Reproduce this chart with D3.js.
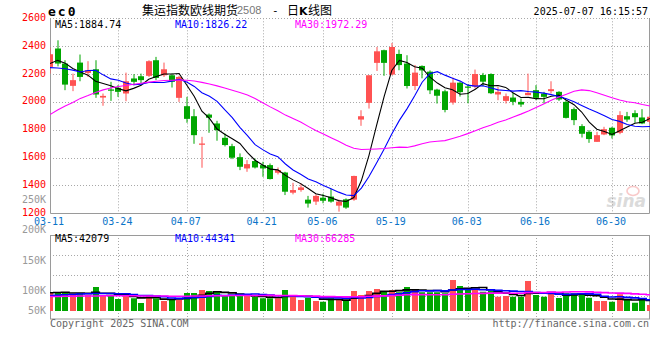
<!DOCTYPE html>
<html><head><meta charset="utf-8">
<script src="https://cdn.jsdelivr.net/npm/d3@7"></script>
<style>body{margin:0;background:#fff}svg{display:block}</style>
</head><body>
<svg id="c" width="660" height="360"></svg>
<script>
const dates = ["03-11","03-12","03-13","03-14","03-17","03-18","03-19","03-20","03-21","03-24","03-25","03-26","03-27","03-28","03-31",
"04-01","04-02","04-03","04-07","04-08","04-09","04-10","04-11","04-14","04-15","04-16","04-17","04-18","04-21","04-22","04-23","04-24","04-25","04-28","04-29","04-30",
"05-06","05-07","05-08","05-09","05-12","05-13","05-14","05-15","05-16","05-19","05-20","05-21","05-22","05-23","05-26","05-27","05-28","05-29","05-30",
"06-03","06-04","06-05","06-06","06-09","06-10","06-11","06-12","06-13","06-16","06-17","06-18","06-19","06-20","06-23","06-24","06-25","06-26","06-27","06-30",
"07-01","07-02","07-03","07-04","07-07"];
const open = [2251,2383,2275,2115,2282,2208,2234,2031,2089,2101,2060,2168,2184,2187,2299,2191,2191,2029,1969,1897,1692,1909,1845,1742,1682,1603,1522,1575,1546,1546,1491,1493,1348,1367,1298,1284,1312,1320,1255,1300,1298,1873,1993,2280,2371,2196,2344,2275,2114,2258,2217,2088,2076,1995,2138,2110,2110,2193,2200,2053,2007,2031,2000,2048,2084,2060,2077,2072,2000,1948,1826,1785,1713,1766,1814,1778,1897,1919,1888,1857];
const high = [2390,2442,2299,2203,2340,2292,2299,2060,2144,2120,2210,2199,2203,2299,2323,2282,2203,2187,2036,1948,1749,1917,1864,1773,1699,1630,1582,1594,1570,1558,1529,1498,1419,1415,1325,1337,1340,1376,1298,1307,1470,1940,2191,2394,2375,2423,2375,2335,2265,2262,2226,2094,2088,2175,2142,2128,2232,2208,2205,2108,2060,2065,2024,2203,2120,2072,2148,2077,2012,1960,1840,1797,1785,1821,1821,1933,1928,1940,1948,1897];
const low = [2203,2255,2084,2077,2148,2179,2029,1972,2007,2036,2005,2120,2132,2179,2156,2179,2103,2000,1850,1699,1527,1778,1721,1680,1589,1510,1498,1522,1462,1443,1479,1331,1336,1355,1241,1260,1272,1276,1212,1232,1290,1828,1952,2222,2187,2191,2227,2096,2085,2169,2056,1988,1925,1980,2038,1990,2096,2112,2056,2012,1988,1976,1964,2048,2012,1988,2060,2007,1881,1833,1744,1706,1713,1761,1737,1768,1857,1850,1840,1845];
const close = [2342,2275,2124,2156,2179,2227,2053,2043,2080,2072,2148,2144,2156,2292,2172,2234,2144,2179,1878,1761,1701,1886,1797,1690,1599,1534,1553,1529,1522,1446,1510,1355,1367,1386,1270,1325,1290,1284,1284,1241,1468,1897,2191,2363,2280,2394,2264,2114,2210,2226,2083,2044,1942,2138,2070,2104,2200,2145,2062,2072,2041,2000,1981,2065,2029,2036,2091,2017,1885,1869,1771,1733,1761,1804,1759,1905,1873,1890,1845,1893];
const ma5 = [2275,2298,2278,2240,2215,2192,2148,2132,2116,2095,2079,2097,2120,2162,2182,2200,2200,2204,2121,2039,1933,1881,1805,1767,1735,1701,1635,1581,1547,1517,1512,1472,1440,1413,1378,1341,1328,1311,1291,1285,1313,1435,1616,1832,2040,2225,2298,2283,2252,2242,2179,2135,2101,2087,2055,2060,2091,2131,2116,2117,2104,2064,2031,2032,2023,2022,2040,2048,2012,1980,1927,1855,1804,1788,1766,1792,1820,1846,1854,1881];
const ma10 = [2246,2243,2238,2228,2215,2225,2226,2194,2165,2155,2136,2123,2126,2139,2139,2139,2149,2162,2142,2111,2066,2040,2004,1944,1887,1817,1758,1693,1657,1626,1607,1554,1511,1480,1447,1426,1400,1376,1352,1331,1327,1381,1464,1561,1662,1769,1867,1950,2042,2141,2202,2217,2192,2170,2149,2120,2113,2116,2101,2086,2082,2077,2081,2074,2070,2063,2052,2039,2022,2001,1974,1948,1926,1900,1873,1860,1838,1825,1821,1823];
const ma30 = [1909,1942,1970,1995,2025,2045,2068,2086,2100,2110,2118,2126,2134,2142,2148,2153,2155,2156,2155,2150,2140,2128,2115,2100,2083,2067,2050,2024,1994,1964,1936,1905,1880,1855,1824,1794,1769,1743,1717,1689,1667,1658,1660,1662,1665,1671,1675,1673,1684,1699,1712,1717,1722,1737,1753,1772,1793,1814,1832,1853,1870,1892,1912,1935,1960,1984,2011,2035,2055,2076,2086,2081,2066,2048,2030,2014,2001,1994,1981,1970];
const volK = [73,76,76,64,72,64,96,60,60,48,72,51,32,64,51,40,44,44,72,72,84,80,76,60,63,60,60,56,51,51,51,84,64,44,53,40,37,57,44,40,80,64,80,88,80,84,75,96,88,75,75,75,71,124,100,84,84,77,80,57,60,57,57,120,64,57,71,52,71,71,71,53,40,40,37,67,44,33,44,24];
const volMa5K = [73,74,75,72,72.2,70.4,74.4,71.2,70.4,65.6,67.2,58.2,52.6,53.4,54,47.6,46.2,48.6,50.2,54.4,63.2,70.4,76.8,74.4,72.6,67.8,63.8,59.8,58,55.6,53.8,58.6,60.2,58.8,59.2,57,47.6,46.2,46.2,43.6,51.6,57,61.6,70.4,78.4,79.2,81.4,84.6,84.6,83.6,81.8,81.8,76.8,84,89,90.8,92.6,93.8,85,76.4,71.6,66.2,62.2,70.2,71.6,71,73.8,72.8,63,64.4,67.2,63.6,61.2,55,48.2,47.4,45.6,44.2,45,42.4];
const volMa10K = [62,63,65,66,68,69,70,70,70,68.9,68.8,66.3,61.9,61.9,59.8,57.4,52.2,50.6,51.8,54.2,55.4,58.3,62.7,62.3,63.5,65.5,67.1,68.3,66.2,64.1,60.8,61.2,60,58.4,57.4,55.4,53.1,53.2,52.5,51.4,54.3,52.3,53.9,58.3,61,65.4,69.2,73.1,77.5,81,80.5,81.6,80.7,84.3,86.3,86.3,87.2,85.3,84.5,82.7,81.2,79.4,78,77.6,74,71.3,70,67.5,66.6,68,69.1,68.7,67,59,56.3,57.3,54.6,52.7,50,45.3];
const volMa30K = [58,58,59,59,60,60,60,61,61,61,61,61,60,60,60,60,59,59,59,60,60,61,61,61,62,62,62,62,62,62.4,61.7,61.9,61.5,60.9,60.2,59.4,57.5,57.4,56.8,56.6,56.8,57.3,58.9,59.7,60.6,62.1,63.1,64.9,65.4,65.5,65.2,65,64.9,67,68.2,69,69.8,70.5,71.5,71.7,72,71.1,70.9,73.4,73.8,74.3,75.5,75.3,76.2,77.2,76.9,76.6,75.2,73.6,72.2,71.6,70.6,68.5,67,65.3];
const priceTicks = [2600,2400,2200,2000,1800,1600,1400,1200];
const dateTicks = ["03-11","03-24","04-07","04-21","05-06","05-19","06-03","06-16","06-30"];
const volTicks = [250,200,150,100,50];
const volTickLabels = ["250K","200K","150K","100K","50K"];
const priceLegend = ["MA5:1884.74","MA10:1826.22","MA30:1972.29"];
const volLegend = ["MA5:42079","MA10:44341","MA30:66285"];
const maColors = ["#000000","#0000ff","#ff00ff"];

const L = 50, R = 650, PT = 18.3, PB = 213.3, VT = 235, VB = 318.5, VBASE = 311;
const UP = "#ff5252", DOWN = "#00a600", GRID = "#a8a8a8", BORDER = "#9a9a9a";
const MONO = "'DejaVu Sans Mono', monospace";
const svg = d3.select("#c");
const x = d3.scalePoint().domain(dates).range([L, R]);
const y = d3.scaleLinear().domain([1200, 2600]).range([PB, PT]);
const yv = d3.scaleLinear().domain([0, 304]).range([VBASE, VBASE - 76]);
const yvLabel = d3.scaleLinear().domain([100, 250]).range([294, 203]);
const idx = d3.range(dates.length);
const xr = i => Math.round(x(dates[i]));

const defs = svg.append("defs");
defs.append("clipPath").attr("id","cp").append("rect").attr("x",L).attr("y",PT).attr("width",R-L).attr("height",PB-PT);
defs.append("clipPath").attr("id","cv").append("rect").attr("x",L).attr("y",VT).attr("width",R-L).attr("height",VB-VT);

// grid
const grid = svg.append("g").attr("stroke",GRID).attr("stroke-dasharray","1,2").attr("stroke-width",1);
priceTicks.filter(v => v > 1200).forEach(v => {
  const yy = Math.round(y(v)) + 0.5;
  grid.append("line").attr("x1",L).attr("x2",R).attr("y1",yy).attr("y2",yy);
});
dateTicks.slice(1).forEach(d => {
  const xx = Math.round(x(d)) + 0.5;
  grid.append("line").attr("x1",xx).attr("x2",xx).attr("y1",PT).attr("y2",PB);
  grid.append("line").attr("x1",xx).attr("x2",xx).attr("y1",VT).attr("y2",VB+1);
});
[1,2,3].forEach(k => {
  const yy = Math.round(VT + k*20.2) + 0.5;
  grid.append("line").attr("x1",L).attr("x2",R).attr("y1",yy).attr("y2",yy);
});

// borders
const bd = svg.append("g").attr("stroke",BORDER).attr("stroke-width",1).attr("fill","none");
bd.append("path").attr("d",`M${L+0.5},${Math.round(PT)}V${Math.round(PB)+0.5}H${R-0.5}V${Math.round(PT)}`);
bd.append("rect").attr("x",L+0.5).attr("y",VT+0.5).attr("width",R-L-1).attr("height",VB-VT);

// watermark
const wm = svg.append("g").attr("opacity",0.35);
wm.append("text").attr("x",646).attr("y",207).attr("text-anchor","end").attr("font-family","'DejaVu Sans', sans-serif")
  .attr("font-style","italic").attr("font-weight","bold").attr("font-size",17).attr("fill","#999").text("sina");
wm.append("ellipse").attr("cx",633).attr("cy",191).attr("rx",6).attr("ry",4.5).attr("fill","none").attr("stroke","#e66").attr("stroke-width",1.6);

// candles
const cg = svg.append("g").attr("clip-path","url(#cp)");
cg.selectAll("rect.w").data(idx).join("rect").attr("class","w")
  .attr("x", i => xr(i) - 0.5).attr("width", 1)
  .attr("y", i => y(high[i])).attr("height", i => Math.max(1, y(low[i]) - y(high[i])))
  .attr("fill", i => close[i] >= open[i] ? UP : DOWN);
cg.selectAll("rect.b").data(idx).join("rect").attr("class","b")
  .attr("x", i => xr(i) - 3).attr("width", 6)
  .attr("y", i => y(Math.max(open[i], close[i])))
  .attr("height", i => Math.max(1.2, Math.abs(y(open[i]) - y(close[i]))))
  .attr("fill", i => close[i] >= open[i] ? UP : DOWN);

// MA lines (price)
[ma5, ma10, ma30].forEach((arr, k) => {
  const ln = d3.line().x(i => x(dates[i])).y(i => y(arr[i]));
  cg.append("path").attr("d", ln(idx)).attr("fill","none").attr("stroke",maColors[k]).attr("stroke-width",1.1);
});

// volume bars
const vg = svg.append("g").attr("clip-path","url(#cv)");
vg.selectAll("rect.v").data(idx).join("rect").attr("class","v")
  .attr("x", i => xr(i) - 3).attr("width", 6)
  .attr("y", i => yv(volK[i])).attr("height", i => VBASE - yv(volK[i]))
  .attr("fill", i => close[i] >= open[i] ? UP : DOWN);
[volMa5K, volMa10K, volMa30K].forEach((arr, k) => {
  const ln = d3.line().curve(d3.curveStep).x(i => x(dates[i])).y(i => yv(arr[i]));
  vg.append("path").attr("d", ln(idx)).attr("fill","none").attr("stroke",maColors[k]).attr("stroke-width",1.6);
});

// axis labels
const t = svg.append("g").attr("font-family",MONO).attr("font-size",10);
priceTicks.forEach(v => {
  t.append("text").attr("x",46).attr("y",y(v)+2.5).attr("text-anchor","end").attr("fill","#ff0000").text(v);
});
volTicks.forEach((v,k) => {
  t.append("text").attr("x",46).attr("y",Math.min(314, yvLabel(v))).attr("text-anchor","end").attr("fill","#999").text(volTickLabels[k]);
});
dateTicks.forEach(d => {
  t.append("text").attr("x",x(d)-1).attr("y",225).attr("text-anchor","middle").attr("fill","#0a74c8").text(d);
});
const legX = [55, 175, 295];
priceLegend.forEach((s,k) => t.append("text").attr("x",legX[k]).attr("y",27.5).attr("fill",maColors[k]).text(s));
volLegend.forEach((s,k) => t.append("text").attr("x",legX[k]).attr("y",242).attr("fill",maColors[k]).text(s));
t.append("text").attr("x",648).attr("y",15).attr("text-anchor","end").attr("fill","#000").text("2025-07-07 16:15:57");
t.append("text").attr("x",50).attr("y",327).attr("fill","#666").text("Copyright 2025 SINA.COM");
t.append("text").attr("x",649).attr("y",327).attr("text-anchor","end").attr("fill","#666").text("http://finance.sina.com.cn");

// title
svg.append("text").attr("x",48).attr("y",16).attr("font-family",MONO).attr("font-weight","bold").attr("font-size",13)
  .attr("letter-spacing",2).attr("fill","#000").text("ec0");
const CJK = "'Noto Sans CJK SC', sans-serif";
svg.append("text").attr("x",142).attr("y",15).attr("font-family",CJK).attr("font-size",12).attr("fill","#000").text("集运指数欧线期货");
svg.append("text").attr("x",237).attr("y",13.5).attr("font-family","'Liberation Sans', sans-serif").attr("font-size",11).attr("fill","#777").text("2508");
svg.append("text").attr("x",272).attr("y",14).attr("font-family",MONO).attr("font-size",11).attr("fill","#000").text("-");
svg.append("text").attr("x",287).attr("y",15).attr("font-family",CJK).attr("font-size",12).attr("fill","#000").text("日");
svg.append("text").attr("x",299).attr("y",15).attr("font-family","'DejaVu Sans', sans-serif").attr("font-weight","bold").attr("font-size",11).attr("fill","#000").text("K");
svg.append("text").attr("x",308).attr("y",15).attr("font-family",CJK).attr("font-size",12).attr("fill","#000").text("线图");
</script>
</body></html>
